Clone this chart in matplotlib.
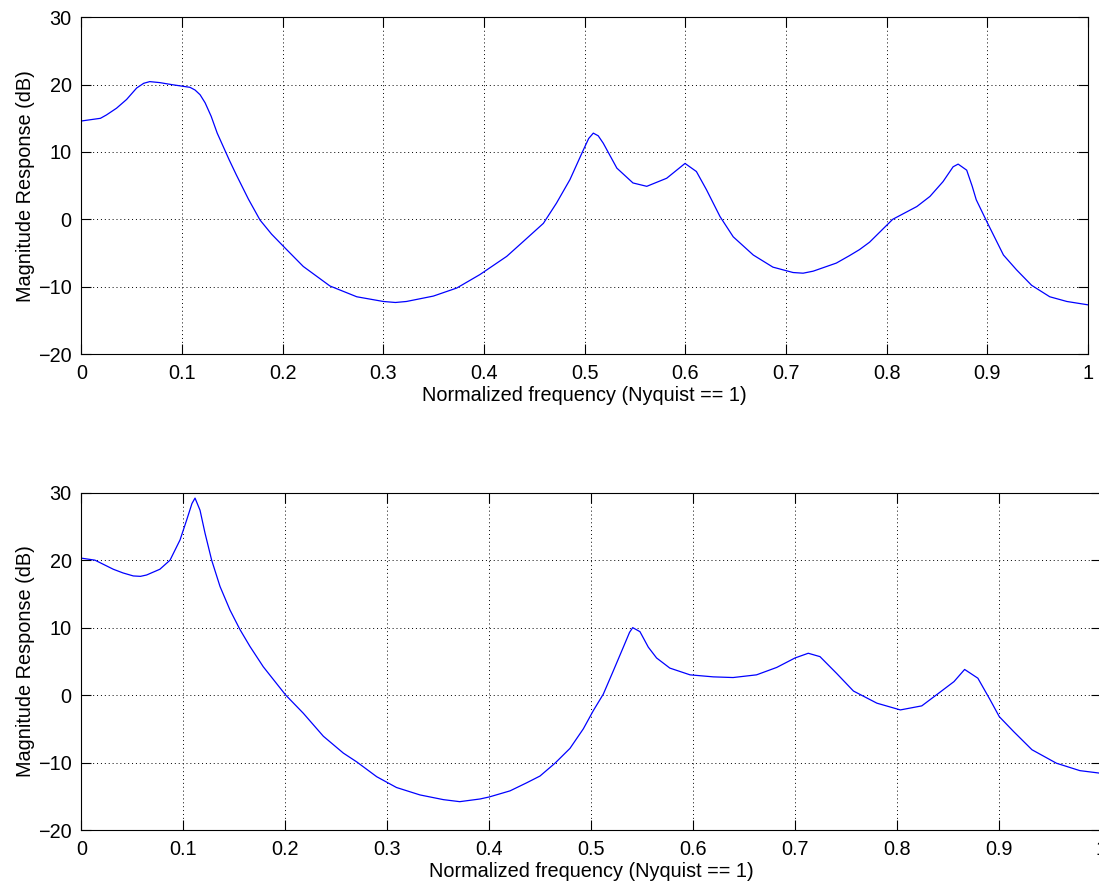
import matplotlib
matplotlib.use("Agg")
import matplotlib.pyplot as plt

# ---- data ----
freq_top = [0.000, 0.019, 0.025, 0.035, 0.045, 0.055, 0.062, 0.068, 0.078, 0.090, 0.099,
            0.108, 0.113, 0.118, 0.123, 0.129, 0.135, 0.141, 0.147, 0.154, 0.166,
            0.1775, 0.189, 0.2007, 0.2205, 0.247, 0.2736, 0.300, 0.312, 0.323, 0.3497,
            0.373, 0.396, 0.4226, 0.439, 0.459, 0.472, 0.4854, 0.4987, 0.504, 0.5086,
            0.5135, 0.5185, 0.532, 0.548, 0.5617, 0.5815, 0.5997, 0.611, 0.621, 0.6345, 0.6476,
            0.6675, 0.687, 0.707, 0.717, 0.727, 0.750, 0.763, 0.773, 0.783, 0.806,
            0.830, 0.843, 0.856, 0.866, 0.871, 0.8795, 0.885, 0.889, 0.900, 0.916,
            0.929, 0.944, 0.962, 0.979, 1.000]
mag_top = [14.6, 15.0, 15.5, 16.5, 17.8, 19.5, 20.2, 20.45, 20.3, 20.0, 19.8,
           19.6, 19.2, 18.5, 17.3, 15.3, 12.8, 10.8, 8.8, 6.6, 3.0,
           -0.1, -2.2, -4.0, -7.0, -9.9, -11.5, -12.2, -12.35, -12.2, -11.4,
           -10.2, -8.2, -5.5, -3.3, -0.6, 2.4, 5.9, 10.3, 12.0, 12.8,
           12.4, 11.3, 7.6, 5.4, 4.9, 6.1, 8.3, 7.1, 4.4, 0.4, -2.6,
           -5.3, -7.1, -7.9, -8.0, -7.7, -6.5, -5.4, -4.5, -3.4, 0.0,
           1.9, 3.4, 5.6, 7.8, 8.2, 7.3, 4.9, 2.9, -0.5, -5.3,
           -7.5, -9.8, -11.5, -12.2, -12.7]

freq_bot = [0.000, 0.0134, 0.0314, 0.041, 0.051, 0.058, 0.064, 0.077, 0.087, 0.0968,
            0.1033, 0.1085, 0.1115, 0.1164, 0.1213, 0.1278, 0.136, 0.1458, 0.1556, 0.1654,
            0.1784, 0.2004, 0.2177, 0.2373, 0.2569, 0.270, 0.2896, 0.309, 0.332, 0.355,
            0.371, 0.391, 0.400, 0.4203, 0.4367, 0.4497, 0.4644, 0.4791, 0.4922, 0.502,
            0.5118, 0.5216, 0.5314, 0.5375, 0.5406, 0.5477, 0.5559, 0.564, 0.577, 0.5968,
            0.6196, 0.639, 0.662, 0.6818, 0.6997, 0.7127, 0.7242, 0.7406, 0.757, 0.780,
            0.803, 0.824, 0.839, 0.8556, 0.866, 0.879, 0.891, 0.900, 0.914, 0.932,
            0.956, 0.979, 1.000]
mag_bot = [20.3, 20.0, 18.65, 18.1, 17.66, 17.6, 17.8, 18.65, 20.0, 23.0,
           25.95, 28.4, 29.2, 27.4, 24.0, 20.0, 16.1, 12.6, 9.7, 7.2,
           4.2, 0.0, -2.7, -6.1, -8.6, -9.9, -12.1, -13.7, -14.8, -15.5,
           -15.8, -15.4, -15.1, -14.2, -13.0, -12.0, -10.1, -7.9, -5.0, -2.3,
           0.15, 3.6, 7.1, 9.3, 10.0, 9.4, 7.1, 5.5, 4.0, 3.0,
           2.7, 2.6, 3.0, 4.1, 5.5, 6.2, 5.7, 3.2, 0.6, -1.2,
           -2.2, -1.6, 0.1, 2.0, 3.8, 2.5, -0.7, -3.2, -5.4, -8.1,
           -10.1, -11.2, -11.6]

xticks = [0, 0.1, 0.2, 0.3, 0.4, 0.5, 0.6, 0.7, 0.8, 0.9, 1]
xticklabels = ["0", "0.1", "0.2", "0.3", "0.4", "0.5", "0.6", "0.7", "0.8", "0.9", "1"]
yticks = [-20, -10, 0, 10, 20, 30]
yticklabels = ["\u221220", "\u221210", "0", "10", "20", "30"]
xlabel = "Normalized frequency (Nyquist == 1)"
ylabel = "Magnitude Response (dB)"

plt.rcParams['font.family'] = ['Liberation Sans', 'DejaVu Sans']
FS = 14.3
plt.rcParams['font.size'] = FS

W, H = 1099, 888
fig = plt.figure(figsize=(W / 100, H / 100), dpi=100)

def px_axes(left, top, right, bottom):
    return fig.add_axes([left / W, 1 - bottom / H, (right - left) / W, (bottom - top) / H])

ax1 = px_axes(81.3, 17.3, 1088.0, 354.0)
ax2 = px_axes(81.3, 492.7, 1101.3, 830.0)

for ax, f, m in ((ax1, freq_top, mag_top), (ax2, freq_bot, mag_bot)):
    ax.plot(f, m, color=(0, 0, 1), lw=0.9)
    ax.set_xlim(0, 1)
    ax.set_ylim(-20, 30)
    ax.set_xticks(xticks)
    ax.set_xticklabels(xticklabels)
    ax.set_yticks(yticks)
    ax.set_yticklabels(yticklabels)
    ax.tick_params(direction='in', length=7, width=0.8, top=True, right=True,
                   labelsize=FS, colors='black')
    ax.tick_params(axis='x', pad=7.5)
    ax.tick_params(axis='y', pad=7)
    ax.grid(True, color='black', linestyle=(0, (1, 3)), linewidth=0.7)
    for s in ax.spines.values():
        s.set_linewidth(0.8)
    ax.set_xlabel(xlabel, fontsize=FS, labelpad=1.5)
    ax.set_ylabel(ylabel, fontsize=FS, labelpad=2)

fig.savefig("out.png", dpi=100)
